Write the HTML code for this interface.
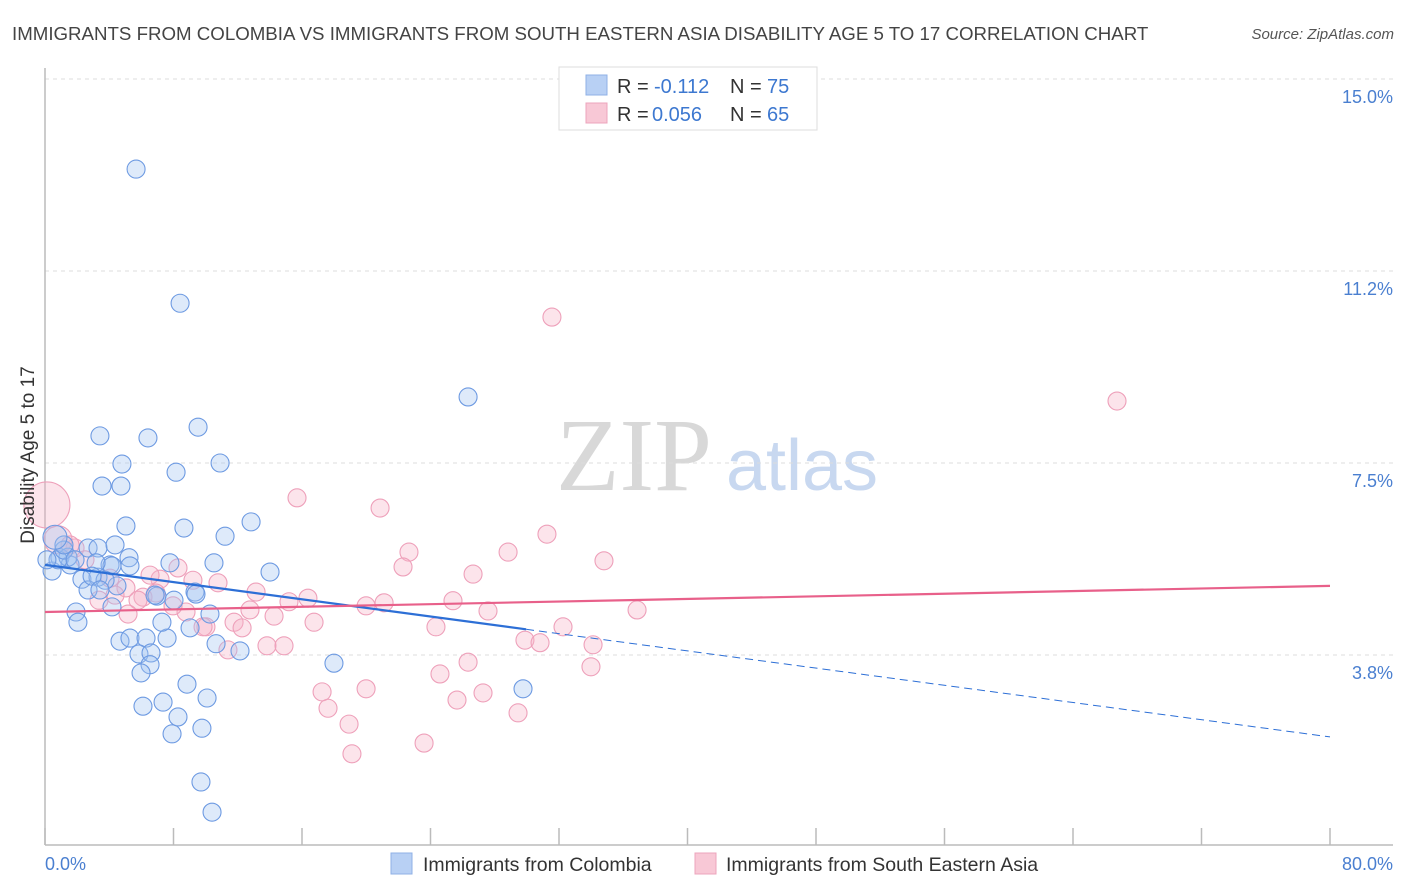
<!DOCTYPE html>
<html><head><meta charset="utf-8">
<style>
body{margin:0;background:#fff;font-family:"Liberation Sans",sans-serif;}
svg{display:block}
</style></head><body>
<svg id="chart" width="1406" height="892" xmlns="http://www.w3.org/2000/svg">
<text x="12" y="40" font-size="18.7" fill="#444">IMMIGRANTS FROM COLOMBIA VS IMMIGRANTS FROM SOUTH EASTERN ASIA DISABILITY AGE 5 TO 17 CORRELATION CHART</text>
<text x="1394" y="39" font-size="15" fill="#555" font-style="italic" text-anchor="end">Source: ZipAtlas.com</text>
<g>
<text x="634" y="490" font-size="104" fill="#d8d8d8" font-family="Liberation Serif" text-anchor="middle">ZIP</text>
<text x="802" y="490" font-size="72" fill="#c8d8f0" text-anchor="middle">atlas</text>
</g>
<g id="grid"></g>
<g id="axes"></g>
<g id="pts"></g>
<g id="lines"></g>
<text transform="translate(34,455) rotate(-90)" font-size="19" fill="#333" text-anchor="middle">Disability Age 5 to 17</text>
<g>
<rect x="559" y="67" width="258" height="63" fill="#fff" stroke="#ddd"/>
<rect x="586" y="75" width="21" height="20" fill="#b8d0f4" stroke="#8fb0e6"/>
<text x="617" y="93" font-size="20" fill="#333">R = </text><text x="654" y="93" font-size="20" fill="#3d78d0">-0.112</text>
<text x="730" y="93" font-size="20" fill="#333">N = </text><text x="767" y="93" font-size="20" fill="#3d78d0">75</text>
<rect x="586" y="103" width="21" height="20" fill="#f8c8d6" stroke="#eda4bc"/>
<text x="617" y="121" font-size="20" fill="#333">R = </text><text x="652" y="121" font-size="20" fill="#3d78d0">0.056</text>
<text x="730" y="121" font-size="20" fill="#333">N = </text><text x="767" y="121" font-size="20" fill="#3d78d0">65</text>
</g>
<g>
<rect x="391" y="853" width="21" height="21" fill="#b8d0f4" stroke="#8fb0e6"/>
<text x="423" y="871" font-size="19.5" fill="#333">Immigrants from Colombia</text>
<rect x="695" y="853" width="21" height="21" fill="#f8c8d6" stroke="#eda4bc"/>
<text x="726" y="871" font-size="19.5" fill="#333">Immigrants from South Eastern Asia</text>
</g>
</svg>
<script>
const yTicks=[3.75,7.5,11.25,15];
const yTickLabels=["3.8%","7.5%","11.2%","15.0%"];
const xTicks=[0,8,16,24,32,40,48,56,64,72,80];
const blueX=[5.67,8.41,26.34,3.42,6.41,9.53,4.79,10.90,8.16,3.55,4.73,5.04,8.65,12.83,11.21,2.68,3.30,4.36,5.23,7.78,10.52,4.05,5.29,14.01,0.44,0.93,1.56,2.30,3.30,4.48,2.68,4.17,6.97,8.03,9.34,10.27,1.93,2.05,4.67,5.29,6.29,7.60,7.28,9.03,10.65,12.14,5.85,6.60,6.54,5.98,17.99,8.84,10.09,29.76,7.35,6.10,8.28,7.91,9.77,9.71,10.40,4.17,3.18,1.43,0.81,3.74,2.93,6.85,3.42,9.40,0.12,1.18,1.87,1.18,0.62];
const blueY=[13.24,10.62,8.79,8.03,7.99,8.20,7.48,7.50,7.32,7.05,7.05,6.27,6.23,6.35,6.07,5.84,5.84,5.90,5.65,5.55,5.55,5.51,5.49,5.37,5.39,5.65,5.51,5.23,5.27,5.10,5.02,4.69,4.90,4.82,4.98,4.55,4.59,4.39,4.02,4.08,4.08,4.08,4.39,4.28,3.97,3.83,3.77,3.79,3.56,3.40,3.59,3.18,2.91,3.09,2.83,2.75,2.54,2.21,2.32,1.27,0.68,5.49,5.55,5.66,5.61,5.21,5.29,4.92,5.02,4.94,5.61,5.80,5.61,5.90,6.05];
const blueR=[9,9,9,9,9,9,9,9,9,9,9,9,9,9,9,9,9,9,9,9,9,9,9,9,9,9,9,9,9,9,9,9,9,9,9,9,9,9,9,9,9,9,9,9,9,9,9,9,9,9,9,9,9,9,9,9,9,9,9,9,9,9,9,9,9,9,9,9,9,9,9,9,9,9,12];
const pinkX=[31.56,66.74,15.69,20.86,31.25,22.66,28.83,34.80,22.29,26.65,8.28,7.16,9.21,10.77,4.05,5.04,6.10,6.91,3.36,5.79,13.14,15.19,16.37,12.76,8.78,7.97,5.17,10.02,11.77,12.27,9.84,16.75,14.26,11.39,13.82,14.88,19.99,21.11,25.40,27.58,36.86,24.34,32.25,29.88,30.82,34.12,26.34,24.59,33.99,17.25,19.99,27.27,25.65,17.62,29.45,18.93,23.60,19.11,1.87,2.49,1.56,6.54,4.36,0.81,0.12];
const pinkY=[10.35,8.71,6.82,6.62,6.11,5.76,5.76,5.59,5.47,5.33,5.45,5.23,5.21,5.16,5.25,5.06,4.88,4.96,4.82,4.82,4.98,4.79,4.86,4.63,4.59,4.71,4.55,4.30,4.39,4.28,4.30,4.39,4.51,3.85,3.93,3.93,4.71,4.77,4.81,4.61,4.63,4.30,4.30,4.04,3.99,3.95,3.61,3.38,3.52,3.03,3.09,3.01,2.87,2.71,2.62,2.40,2.03,1.82,5.84,5.61,5.90,5.31,4.92,6.00,6.68];
const pinkR=[9,9,9,9,9,9,9,9,9,9,9,9,9,9,9,9,9,9,9,9,9,9,9,9,9,9,9,9,9,9,9,9,9,9,9,9,9,9,9,9,9,9,9,9,9,9,9,9,9,9,9,9,9,9,9,9,9,9,9,9,9,9,9,14,23];
const blueTrend=[5.51,2.15]; const blueSolidEnd=29.95;
const pinkTrend=[4.59,5.10];
const NS="http://www.w3.org/2000/svg";
const X=v=>45+v/80*1285, Y=v=>79+(15-v)*51.2;
function mk(t,a,p){const e=document.createElementNS(NS,t);for(const k in a)e.setAttribute(k,a[k]);p.appendChild(e);return e;}
const grid=document.getElementById('grid'),axes=document.getElementById('axes');
yTicks.forEach((t,i)=>{
 const l=mk('line',{x1:45,x2:1393,y1:Y(t),y2:Y(t),stroke:'#ddd','stroke-dasharray':'4,4'},grid);
 
 
 const tx=mk('text',{x:1393,y:Y(t)+24,'font-size':18,fill:'#4a7fd0','text-anchor':'end'},axes);
 tx.textContent=yTickLabels[i];
 
 
});
mk('line',{x1:45,x2:45,y1:68,y2:845,stroke:'#bbb','stroke-width':1.5},axes);
mk('line',{x1:45,x2:1393,y1:845,y2:845,stroke:'#bbb','stroke-width':1.5},axes);
xTicks.forEach(t=>{const l=mk('line',{x1:X(t),x2:X(t),y1:828,y2:845,stroke:'#bbb','stroke-width':1.5},axes);
 
 });
let t0=mk('text',{x:45,y:870,'font-size':18,fill:'#4a7fd0'},axes);t0.textContent='0.0%';


let t1=mk('text',{x:1393,y:870,'font-size':18,fill:'#4a7fd0','text-anchor':'end'},axes);t1.textContent='80.0%';


const pts=document.getElementById('pts');
pinkX.forEach((v,i)=>{const c=mk('circle',{cx:X(v),cy:Y(pinkY[i]),r:pinkR[i],fill:'rgba(246,178,198,0.35)',stroke:'#eea0ba','stroke-width':1.1},pts);
 
 });
blueX.forEach((v,i)=>{const c=mk('circle',{cx:X(v),cy:Y(blueY[i]),r:blueR[i],fill:'rgba(160,194,240,0.35)',stroke:'#6d9ae2','stroke-width':1.1},pts);
 
 });
const lines=document.getElementById('lines');
const by=x=>blueTrend[0]+(blueTrend[1]-blueTrend[0])*x/80;
let b1=mk('line',{x1:X(0),y1:Y(by(0)),x2:X(blueSolidEnd),y2:Y(by(blueSolidEnd)),stroke:'#2d6fd6','stroke-width':2.2},lines);


let b2=mk('line',{x1:X(blueSolidEnd),y1:Y(by(blueSolidEnd)),x2:X(80),y2:Y(by(80)),stroke:'#2d6fd6','stroke-width':1,'stroke-dasharray':'8,5'},lines);


let p1=mk('line',{x1:X(0),y1:Y(pinkTrend[0]),x2:X(80),y2:Y(pinkTrend[1]),stroke:'#e8608a','stroke-width':2.2},lines);


</script>
</body></html>
